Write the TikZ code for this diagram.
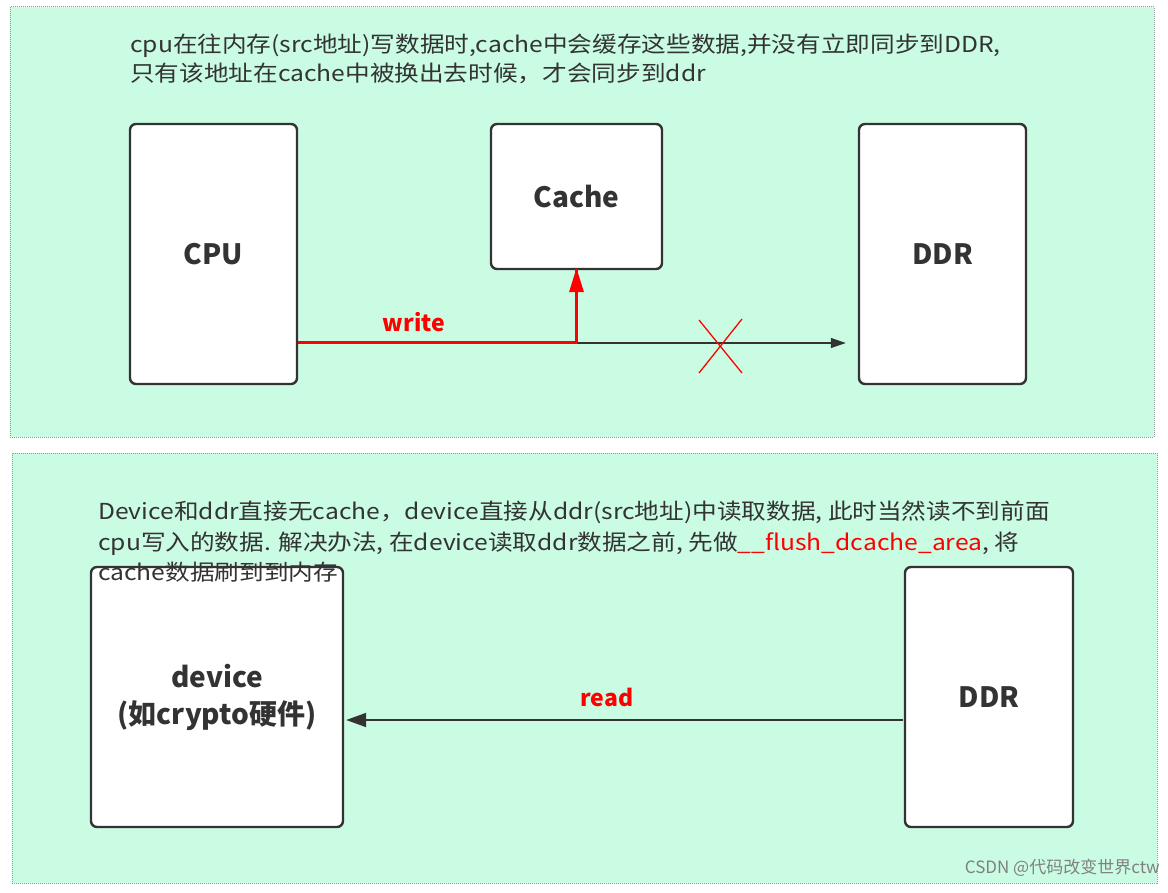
\documentclass[tikz,border=0pt]{standalone}
\usepackage{fontspec}
\setmainfont{Noto Sans CJK SC}
\newfontfamily\notefont{Noto Sans CJK SC}[FakeStretch=1.12]
\usetikzlibrary{arrows.meta}
\definecolor{mint}{RGB}{202,252,228}
\definecolor{ink}{RGB}{51,51,51}
\definecolor{panelline}{RGB}{150,150,150}
\tikzset{
  panel/.style={fill=mint, draw=panelline, densely dotted, line width=1pt},
  blk/.style={draw=ink, fill=white, line width=2.4pt, rounded corners=6pt, font=\bfseries\fontsize{28}{37}\selectfont, text=ink, align=center, inner sep=0pt},
  note/.style={anchor=base west, text=ink, font=\notefont\fontsize{22}{29}\selectfont, inner sep=0pt},
  redlbl/.style={text=red, font=\bfseries\fontsize{23}{26}\selectfont, inner sep=0pt},
  redflow/.style={draw=red, line width=3pt},
  grayflow/.style={draw=ink, line width=1.3pt},
  cross/.style={draw=red, line width=1.3pt},
}
\begin{document}
\begin{tikzpicture}[x=1pt,y=-1pt]
\useasboundingbox (0,0) rectangle (1168,893);
\fill[white] (0,0) rectangle (1168,893);
% panels
\path[panel] (10,7) rectangle (1154,437);
\path[panel] (12,453) rectangle (1157,883);
% top texts
\node[note] (t1) at (130,53) {cpu在往内存(src地址)写数据时,cache中会缓存这些数据,并没有立即同步到DDR,};
\node[note] (t2) at (130,82) {只有该地址在cache中被换出去时候，才会同步到ddr};
% top boxes
\node[blk, minimum width=167pt, minimum height=260pt] (cpu) at (213.5,254) {CPU};
\node[blk, minimum width=171pt, minimum height=145pt] (cache) at (576.5,196.5) {Cache};
\node[blk, minimum width=167pt, minimum height=260pt] (ddr) at (942.5,254) {DDR};
\coordinate (bend) at (576.5,343);
\path[grayflow, -{Triangle[length=15pt,width=10pt]}, shorten >=12pt] (bend) -- (ddr.west |- bend);
\path[redflow, line join=round] (cpu.east |- bend) -- (bend) -- ([yshift=1pt]cache.south);
\path[fill=red] ([yshift=2pt]cache.south) -- ++(-7.5,24) -- ++(15,0) -- cycle;
\node[redlbl] (write) at (414,322) {write};
\coordinate (x1) at (699,320);
\coordinate (x2) at (742,373);
\coordinate (x3) at (742,319);
\coordinate (x4) at (699,373);
\path[cross] (x1) -- (x2);
\path[cross] (x3) -- (x4);
% bottom texts
\node[note] (b1) at (98,519) {Device和ddr直接无cache，device直接从ddr(src地址)中读取数据, 此时当然读不到前面};
\node[note] (b2) at (98,550) {cpu写入的数据. 解决办法, 在device读取ddr数据之前, 先做{\color{red}\_\_flush\_dcache\_area}, 将};
% bottom boxes
\node[blk, minimum width=252pt, minimum height=260pt] (dev) at (217,697) {\raisebox{0pt}[0pt][0pt]{}device\\(如crypto硬件)};
\node[blk, minimum width=168pt, minimum height=260pt] (ddr2) at (989,697) {DDR};
\node[note] (b3) at (98,580) {cache数据刷到到内存};
\coordinate (rd) at (903,720);
\path[draw=ink, line width=2pt, -{Triangle[length=20pt,width=14pt]}, shorten >=2pt] (rd) -- (dev.east |- rd);
\node[redlbl] (read) at (607,697) {read};
% watermark
\node[text=gray, font=\fontsize{17}{20}\selectfont, anchor=east, inner sep=0pt] (wm) at (1160,868) {CSDN @代码改变世界ctw};
\end{tikzpicture}
\end{document}
